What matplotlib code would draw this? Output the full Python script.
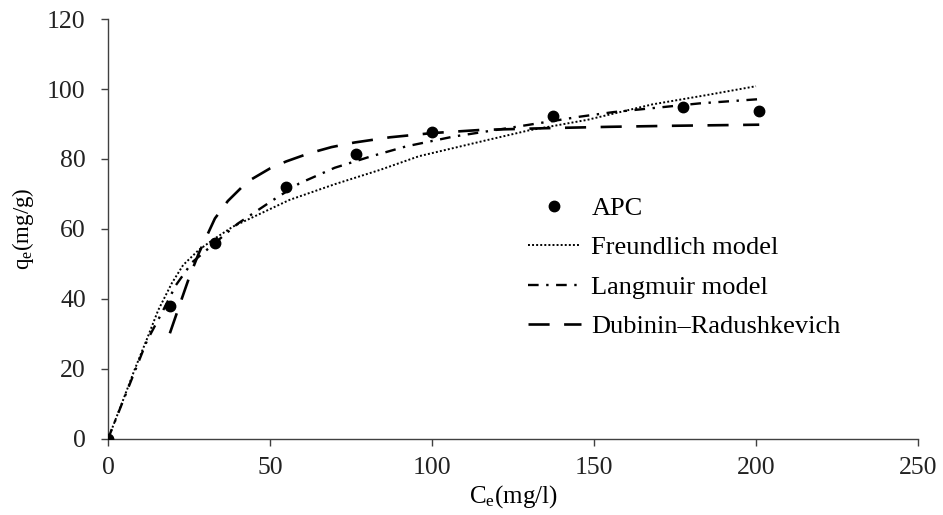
import matplotlib
matplotlib.use("Agg")
import matplotlib.pyplot as plt

plt.rcParams["font.family"] = ["Liberation Serif", "DejaVu Serif"]
plt.rcParams["mathtext.fontset"] = "custom"
plt.rcParams["mathtext.rm"] = "Liberation Serif"

# experimental points (APC)
ce_apc = [0, 19, 33, 55, 76.5, 100, 137.5, 177.5, 201]
qe_apc = [0, 38, 56, 72, 81.5, 87.8, 92.2, 94.8, 93.7]

# model curves
ce_freund = [0, 4, 8.3, 12, 15.5, 19.7, 23.2, 28, 33, 38.6, 45, 56, 70, 84,
             96, 117, 130, 148, 168, 185, 200]
qe_freund = [0, 9.5, 20, 28.5, 36.8, 44.5, 49.7, 54, 57.3, 60.7, 63.5, 68.3, 72.8, 76.9,
             80.8, 85.4, 88.2, 91.2, 95.6, 98.3, 100.8]

ce_lang = [0, 6, 12, 16.6, 21, 26, 33, 40, 51, 59, 70, 81, 92, 106.6,
           126, 145.7, 156, 182.7, 201]
qe_lang = [0, 14, 28, 36, 44, 50.5, 56, 61.5, 68.3, 73, 77.5, 80.7, 83.6, 86.4,
           89.2, 92.1, 93.4, 95.9, 97.1]

ce_dr = [19.1, 22, 25, 28, 31, 33, 37, 43, 50, 55, 62, 69, 76, 87, 100,
         115, 135, 155, 175, 201]
qe_dr = [30.2, 38, 46, 53, 59, 63, 68, 73.5, 77.3, 79.3, 81.6, 83.4, 84.7, 86.2, 87.4,
         88.3, 88.8, 89.2, 89.5, 89.8]

xticks = [0, 50, 100, 150, 200, 250]
yticks = [0, 20, 40, 60, 80, 100, 120]

fig = plt.figure(figsize=(9.43, 5.15), dpi=100)
ax = fig.add_axes([0.1145, 0.1476, 0.859, 0.8155])

ax.plot(ce_apc, qe_apc, "o", color="black", markersize=7.5, label="APC", zorder=5)
ax.plot(ce_freund, qe_freund, color="black", lw=1.4, dashes=(1, 1.1),
        label="Freundlich model")
ax.plot(ce_lang, qe_lang, color="black", lw=1.7, dashes=(4.5, 3.2, 1, 3.2),
        label="Langmuir model")
ax.plot(ce_dr, qe_dr, color="black", lw=1.9, dashes=(8, 5.5),
        label="Dubinin\u2013Radushkevich")

ax.set_xlim(0, 250)
ax.set_ylim(0, 120)
ax.set_xticks(xticks)
ax.set_yticks(yticks)

for s in ["top", "right"]:
    ax.spines[s].set_visible(False)
for s in ["left", "bottom"]:
    ax.spines[s].set_color("#404040")
    ax.spines[s].set_linewidth(1.0)

ax.tick_params(axis="both", direction="out", length=5, width=1, color="#404040",
               labelsize=18.5, labelcolor="#222222")
ax.tick_params(axis="x", pad=8)
ax.tick_params(axis="y", pad=11)

ax.set_xlabel(r"C$\mathregular{_e}$(mg/l)", fontsize=18, labelpad=3)
ax.set_ylabel(r"q$\mathregular{_e}$(mg/g)", fontsize=16.5, labelpad=8)

ax.legend(loc="upper left", bbox_to_anchor=(0.5185, 0.577), frameon=False,
          fontsize=19, handlelength=2.0, handletextpad=0.4, labelspacing=0.6,
          borderaxespad=0, borderpad=0, numpoints=1)

fig.savefig("out.png", dpi=100)
